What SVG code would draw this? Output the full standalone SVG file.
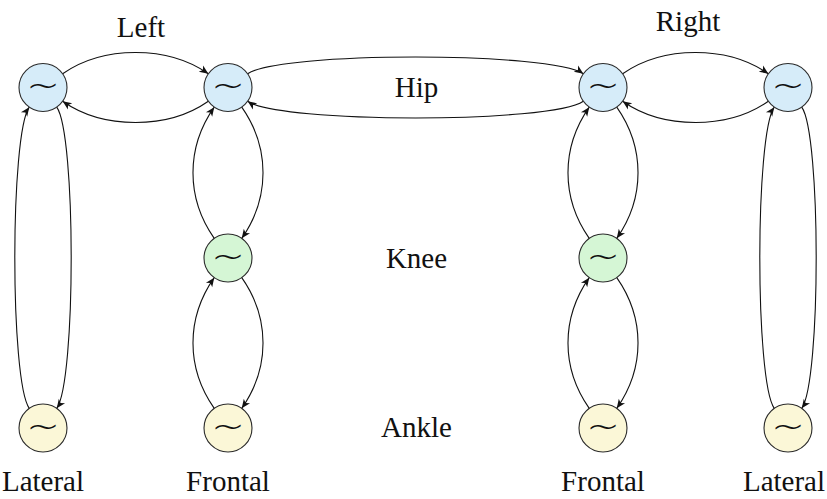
<svg xmlns="http://www.w3.org/2000/svg" width="827" height="499" viewBox="0 0 827 499">
  <style>
    .osc circle { stroke: #2b2b2b; stroke-width: 1.1; }
    .hip circle { fill: #d6ecf9; }
    .knee circle { fill: #d5f6d5; }
    .ankle circle { fill: #fbf7d7; }
    .sym { font-family: "DejaVu Sans", sans-serif; font-weight: 200; font-size: 44px; text-anchor: middle; fill: #111; }
    .lbl { font-family: "Liberation Serif", "DejaVu Serif", serif; font-size: 29px; text-anchor: middle; fill: #111; }
    .edges path { fill: none; stroke: #111; stroke-width: 1.1; marker-end: url(#arr); }
  </style>
  <defs>
    <marker id="arr" viewBox="-10 -5 11 10" refX="0" refY="0" markerWidth="11" markerHeight="10" markerUnits="userSpaceOnUse" orient="auto">
      <path d="M0,0 L-9,-3.8 L-6.6,0 L-9,3.8 Z" fill="#111"/>
    </marker>
  </defs>

  <!-- couplings -->
  <g id="edges" class="edges">
    <!-- hip row, left leg -->
    <path d="M62.66,73.73 C103.2,45.4 167.8,45.4 208.34,73.73"/>
    <path d="M208.34,101.27 C167.8,129.6 103.2,129.6 62.66,101.27"/>
    <!-- hip row, across -->
    <path d="M247.66,73.73 C279.4,51.5 551.6,51.5 583.34,73.73"/>
    <path d="M583.34,101.27 C551.6,123.5 279.4,123.5 247.66,101.27"/>
    <!-- hip row, right leg -->
    <path d="M622.66,73.73 C663.2,45.4 727.8,45.4 768.34,73.73"/>
    <path d="M768.34,101.27 C727.8,129.6 663.2,129.6 622.66,101.27"/>
    <!-- left lateral: hip <-> ankle -->
    <path d="M56.77,107.16 C76,134.6 76,380.9 56.77,408.34"/>
    <path d="M29.23,408.34 C10,380.9 10,134.6 29.23,107.16"/>
    <!-- right lateral: hip <-> ankle -->
    <path d="M801.77,107.16 C821,134.6 821,380.9 801.77,408.34"/>
    <path d="M774.23,408.34 C755,380.9 755,134.6 774.23,107.16"/>
    <!-- left frontal chain -->
    <path d="M241.77,107.16 C270.1,147.7 270.1,197.8 241.77,238.34"/>
    <path d="M214.23,238.34 C185.9,197.8 185.9,147.7 214.23,107.16"/>
    <path d="M241.77,277.66 C270.1,318.2 270.1,367.8 241.77,408.34"/>
    <path d="M214.23,408.34 C185.9,367.8 185.9,318.2 214.23,277.66"/>
    <!-- right frontal chain -->
    <path d="M616.77,107.16 C645.1,147.7 645.1,197.8 616.77,238.34"/>
    <path d="M589.23,238.34 C560.9,197.8 560.9,147.7 589.23,107.16"/>
    <path d="M616.77,277.66 C645.1,318.2 645.1,367.8 616.77,408.34"/>
    <path d="M589.23,408.34 C560.9,367.8 560.9,318.2 589.23,277.66"/>
  </g>

  <!-- oscillators: circle + tilde, placed by translate -->
  <g id="hip-left-lateral" class="osc hip" transform="translate(43,87.5)"><circle r="24"/><text class="sym" transform="scale(1.2,0.85)" y="14">∼</text></g>
  <g id="hip-left-frontal" class="osc hip" transform="translate(228,87.5)"><circle r="24"/><text class="sym" transform="scale(1.2,0.85)" y="14">∼</text></g>
  <g id="hip-right-frontal" class="osc hip" transform="translate(603,87.5)"><circle r="24"/><text class="sym" transform="scale(1.2,0.85)" y="14">∼</text></g>
  <g id="hip-right-lateral" class="osc hip" transform="translate(788,87.5)"><circle r="24"/><text class="sym" transform="scale(1.2,0.85)" y="14">∼</text></g>

  <g id="knee-left" class="osc knee" transform="translate(228,258)"><circle r="24"/><text class="sym" transform="scale(1.2,0.85)" y="14">∼</text></g>
  <g id="knee-right" class="osc knee" transform="translate(603,258)"><circle r="24"/><text class="sym" transform="scale(1.2,0.85)" y="14">∼</text></g>

  <g id="ankle-left-lateral" class="osc ankle" transform="translate(43,428)"><circle r="24"/><text class="sym" transform="scale(1.2,0.85)" y="14">∼</text></g>
  <g id="ankle-left-frontal" class="osc ankle" transform="translate(228,428)"><circle r="24"/><text class="sym" transform="scale(1.2,0.85)" y="14">∼</text></g>
  <g id="ankle-right-frontal" class="osc ankle" transform="translate(603,428)"><circle r="24"/><text class="sym" transform="scale(1.2,0.85)" y="14">∼</text></g>
  <g id="ankle-right-lateral" class="osc ankle" transform="translate(788,428)"><circle r="24"/><text class="sym" transform="scale(1.2,0.85)" y="14">∼</text></g>

  <!-- labels -->
  <g id="labels">
    <text class="lbl" x="141" y="37">Left</text>
    <text class="lbl" x="688" y="31">Right</text>
    <text class="lbl" x="416.5" y="97">Hip</text>
    <text class="lbl" x="416.5" y="268">Knee</text>
    <text class="lbl" x="416.5" y="437">Ankle</text>
    <text class="lbl" x="43" y="491">Lateral</text>
    <text class="lbl" x="228" y="491">Frontal</text>
    <text class="lbl" x="603" y="491">Frontal</text>
    <text class="lbl" x="784" y="491">Lateral</text>
  </g>
</svg>
